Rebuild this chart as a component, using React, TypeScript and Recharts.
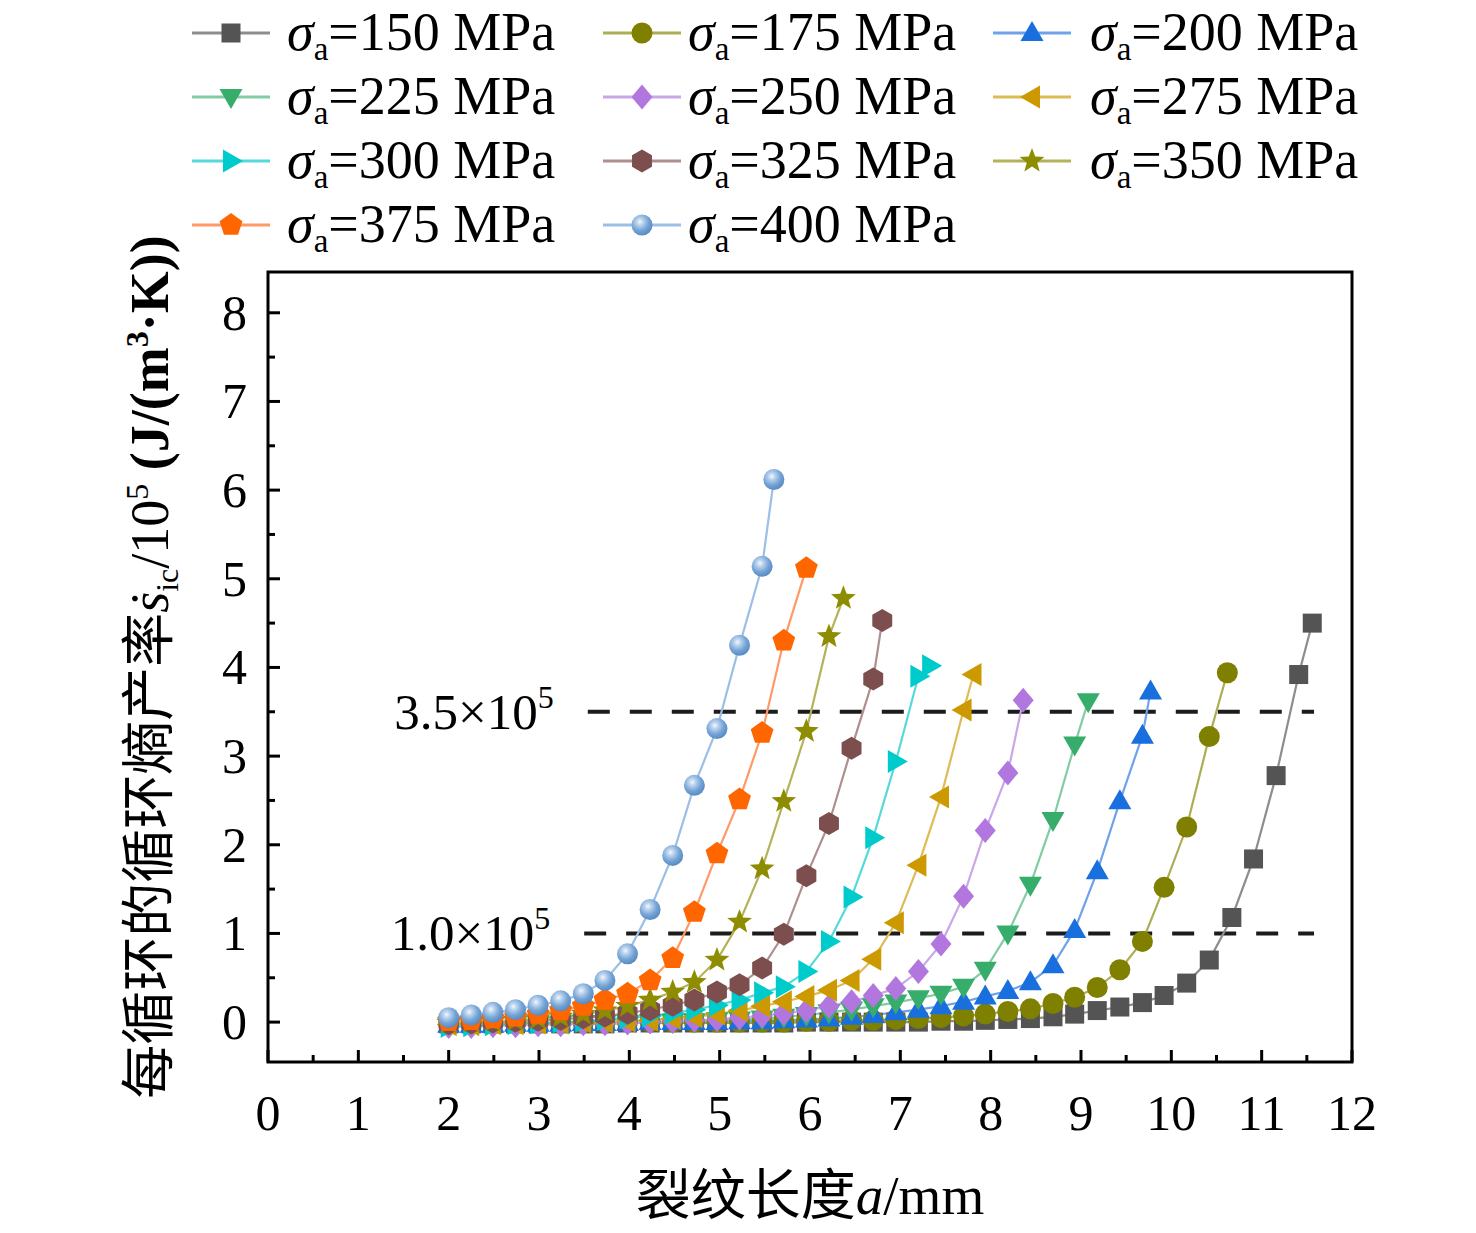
import React from 'react'
import { LineChart, Line, XAxis, YAxis, ReferenceLine, ReferenceArea, Legend } from 'recharts'

const SERIF = '"Liberation Serif", "Times New Roman", serif'
const CJK = '"Liberation Serif", "Noto Sans CJK SC", serif'

// crack length grid (mm), shared by every stress level
const crackLength = [
  2.0, 2.25, 2.49, 2.74, 2.99, 3.24, 3.49, 3.73, 3.98, 4.23, 4.48, 4.72, 4.97, 5.22, 5.47, 5.71, 5.96, 6.21, 6.46,
  6.7, 6.95, 7.2, 7.45, 7.7, 7.94, 8.19, 8.44, 8.69, 8.93, 9.18, 9.43, 9.68, 9.92, 10.17, 10.42, 10.67, 10.91, 11.16,
  11.41,
]

// entropy production rate / 1e5, one value per grid point, plus the final (critical) point
const rate150 = [
  -0.02, -0.02, -0.02, -0.02, -0.02, -0.02, -0.02, -0.02, -0.01, -0.01, -0.01, -0.01, -0.01, -0.01, -0.01, -0.01, 0.0,
  0.0, 0.0, 0.0, 0.0, 0.0, 0.01, 0.01, 0.02, 0.03, 0.04, 0.06, 0.09, 0.13, 0.17, 0.22, 0.3, 0.44, 0.7, 1.18, 1.84, 2.78,
  3.92,
]
const end150 = [11.56, 4.5]
const rate175 = [
  -0.01, -0.01, -0.01, -0.01, -0.01, -0.01, -0.01, -0.01, 0.0, 0.0, 0.0, 0.0, 0.0, 0.0, 0.0, 0.0, 0.01, 0.01, 0.02,
  0.02, 0.03, 0.04, 0.05, 0.07, 0.09, 0.12, 0.15, 0.21, 0.28, 0.39, 0.59, 0.91, 1.52, 2.2, 3.22,
]
const end175 = [10.62, 3.94]
const rate200 = [
  -0.03, -0.03, -0.03, -0.02, -0.02, -0.02, -0.01, -0.01, -0.01, 0.0, 0.0, 0.0, 0.0, 0.01, 0.01, 0.02, 0.03, 0.04, 0.06,
  0.08, 0.11, 0.14, 0.18, 0.23, 0.29, 0.35, 0.45, 0.64, 1.04, 1.7, 2.49, 3.23,
]
const end200 = [9.77, 3.73]
const rate225 = [
  -0.03, -0.03, -0.03, -0.02, -0.02, -0.02, -0.01, -0.01, -0.01, 0.0, 0.0, 0.01, 0.02, 0.03, 0.04, 0.06, 0.08, 0.11,
  0.14, 0.18, 0.22, 0.27, 0.32, 0.4, 0.59, 1.0, 1.55, 2.28, 3.13,
]
const end225 = [9.08, 3.62]
const rate250 = [
  -0.05, -0.05, -0.04, -0.04, -0.03, -0.03, -0.02, -0.02, -0.01, 0.0, 0.01, 0.02, 0.03, 0.05, 0.07, 0.1, 0.13, 0.18,
  0.23, 0.3, 0.38, 0.57, 0.88, 1.42, 2.16, 2.81,
]
const end250 = [8.36, 3.63]
const rate275 = [
  -0.03, -0.03, -0.02, -0.02, -0.01, -0.01, 0.0, 0.0, 0.01, 0.02, 0.04, 0.06, 0.09, 0.13, 0.18, 0.23, 0.29, 0.36, 0.47,
  0.71, 1.12, 1.77, 2.54, 3.52,
]
const end275 = [7.81, 3.92]
const rate300 = [
  -0.05, -0.04, -0.03, -0.02, -0.01, 0.0, 0.01, 0.03, 0.05, 0.07, 0.1, 0.14, 0.19, 0.25, 0.33, 0.4, 0.57, 0.91, 1.41,
  2.08, 2.94, 3.9,
]
const end300 = [7.33, 4.02]
const rate325 = [
  -0.02, -0.01, 0.0, 0.01, 0.02, 0.03, 0.05, 0.07, 0.1, 0.14, 0.19, 0.25, 0.34, 0.42, 0.61, 0.99, 1.65, 2.24, 3.09,
  3.87,
]
const end325 = [6.8, 4.53]
const rate350 = [
  -0.01, 0.0, 0.01, 0.02, 0.04, 0.06, 0.09, 0.13, 0.18, 0.25, 0.34, 0.45, 0.7, 1.13, 1.73, 2.49, 3.28, 4.35,
]
const end350 = [6.37, 4.78]
const rate375 = [0.01, 0.02, 0.04, 0.06, 0.09, 0.13, 0.18, 0.25, 0.32, 0.47, 0.72, 1.24, 1.9, 2.51, 3.26, 4.3]
const end375 = [5.96, 5.12]
const rate400 = [0.05, 0.08, 0.11, 0.14, 0.19, 0.24, 0.32, 0.47, 0.77, 1.27, 1.88, 2.67, 3.31, 4.25, 5.14]
const end400 = [5.6, 6.12]

const xTicks = [0, 0.5, 1, 1.5, 2, 2.5, 3, 3.5, 4, 4.5, 5, 5.5, 6, 6.5, 7, 7.5, 8, 8.5, 9, 9.5, 10, 10.5, 11, 11.5, 12]
const yTicks = [0, 0.5, 1, 1.5, 2, 2.5, 3, 3.5, 4, 4.5, 5, 5.5, 6, 6.5, 7, 7.5, 8]
const thresholds = [
  { value: 3.5, text: '3.5', from: 3.54, to: 11.58 },
  { value: 1.0, text: '1.0', from: 3.5, to: 11.58 },
]

const series = [
  { stress: '150', values: rate150, end: end150, shape: 'square', fill: '#545454', line: '#8d8d8d' },
  { stress: '175', values: rate175, end: end175, shape: 'circle', fill: '#7f7f00', line: '#adad55' },
  { stress: '200', values: rate200, end: end200, shape: 'up', fill: '#1a6fdf', line: '#6ea3ea' },
  { stress: '225', values: rate225, end: end225, shape: 'down', fill: '#37ad6b', line: '#82cca2' },
  { stress: '250', values: rate250, end: end250, shape: 'diamond', fill: '#b177de', line: '#caa6ea' },
  { stress: '275', values: rate275, end: end275, shape: 'left', fill: '#cc9900', line: '#ddbb55' },
  { stress: '300', values: rate300, end: end300, shape: 'right', fill: '#00cbcc', line: '#55d9da' },
  { stress: '325', values: rate325, end: end325, shape: 'hexagon', fill: '#7d4e4e', line: '#ad8f8f' },
  { stress: '350', values: rate350, end: end350, shape: 'star', fill: '#8e8c00', line: '#b5b35a' },
  { stress: '375', values: rate375, end: end375, shape: 'pentagon', fill: '#ff6600', line: '#ff9a66' },
  { stress: '400', values: rate400, end: end400, shape: 'sphere', fill: 'url(#sphereFill)', line: '#9bbfe6' },
]

const toPoints = (values: number[], end: number[]) => [
  ...values.map((s, i) => ({ a: crackLength[i], s })),
  { a: end[0], s: end[1] },
]

const polar = (n: number, r: number, cx: number, cy: number, start = -90) =>
  Array.from({ length: n }, (_, k) => {
    const t = ((start + (360 / n) * k) * Math.PI) / 180
    return `${cx + r * Math.cos(t)},${cy + r * Math.sin(t)}`
  }).join(' ')

const starPts = (cx: number, cy: number) =>
  Array.from({ length: 10 }, (_, k) => {
    const r = k % 2 === 0 ? 13 : 5.5
    const t = ((-90 + 36 * k) * Math.PI) / 180
    return `${cx + r * Math.cos(t)},${cy + r * Math.sin(t)}`
  }).join(' ')

function Marker({ shape, cx, cy, fill }: { shape: string; cx: number; cy: number; fill: string }) {
  if (cx == null || cy == null) return null
  switch (shape) {
    case 'square':
      return <rect x={cx - 9.5} y={cy - 9.5} width={19} height={19} fill={fill} />
    case 'circle':
    case 'sphere':
      return <circle cx={cx} cy={cy} r={10.5} fill={fill} />
    case 'up':
      return <polygon points={`${cx},${cy - 12} ${cx + 11.5},${cy + 8} ${cx - 11.5},${cy + 8}`} fill={fill} />
    case 'down':
      return <polygon points={`${cx},${cy + 12} ${cx + 11.5},${cy - 8} ${cx - 11.5},${cy - 8}`} fill={fill} />
    case 'left':
      return <polygon points={`${cx - 12},${cy} ${cx + 8},${cy - 11.5} ${cx + 8},${cy + 11.5}`} fill={fill} />
    case 'right':
      return <polygon points={`${cx + 12},${cy} ${cx - 8},${cy - 11.5} ${cx - 8},${cy + 11.5}`} fill={fill} />
    case 'diamond':
      return <polygon points={`${cx},${cy - 12.5} ${cx + 10.5},${cy} ${cx},${cy + 12.5} ${cx - 10.5},${cy}`} fill={fill} />
    case 'hexagon':
      return <polygon points={polar(6, 11.5, cx, cy)} fill={fill} />
    case 'pentagon':
      return <polygon points={polar(5, 12, cx, cy)} fill={fill} />
    case 'star':
      return <polygon points={starPts(cx, cy)} fill={fill} />
    default:
      return null
  }
}

const XTick = (props: any) => {
  const { x, y, payload } = props
  const v = payload.value
  const major = Number.isInteger(v)
  return (
    <g>
      <line x1={x} x2={x} y1={y} y2={y - (major ? 12 : 7)} stroke="#000" strokeWidth={3} />
      {major && (
        <text x={x} y={y + 68} textAnchor="middle" fontFamily={SERIF} fontSize={50} fill="#000">
          {v}
        </text>
      )}
    </g>
  )
}

const YTick = (props: any) => {
  const { x, y, payload } = props
  const v = payload.value
  const major = Number.isInteger(v)
  return (
    <g>
      <line x1={x} x2={x + (major ? 12 : 7)} y1={y} y2={y} stroke="#000" strokeWidth={3} />
      {major && (
        <text x={x - 21} y={y + 17} textAnchor="end" fontFamily={SERIF} fontSize={50} fill="#000">
          {v}
        </text>
      )}
    </g>
  )
}

const ThresholdLabel = (props: any) => {
  const { viewBox, text } = props
  return (
    <text x={viewBox.x - 34} y={viewBox.y + 17} textAnchor="end" fontFamily={SERIF} fontSize={51} fill="#000">
      {text}×10
      <tspan fontSize={32} dy={-21}>
        5
      </tspan>
    </text>
  )
}

const XTitle = (props: any) => {
  const { viewBox } = props
  return (
    <text x={viewBox.x + viewBox.width / 2} y={viewBox.y + 152} textAnchor="middle" fontFamily={CJK} fontSize={55} fill="#000">
      裂纹长度<tspan fontStyle="italic">a</tspan>/mm
    </text>
  )
}

const YTitle = (props: any) => {
  const { viewBox } = props
  const cx = viewBox.x - 58
  const cy = viewBox.y + viewBox.height / 2
  return (
    <text transform={`translate(${cx}, ${cy}) rotate(-90)`} x={0} y={18} textAnchor="middle" fontFamily={CJK} fontSize={54} fill="#000">
      每循环的循环熵产率
      <tspan fontStyle="italic">ṡ</tspan>
      <tspan fontSize={32} dy={10}>
        ic
      </tspan>
      <tspan dy={-10}>/10</tspan>
      <tspan fontSize={32} dy={-20}>
        5
      </tspan>
      <tspan dy={20} fontWeight="bold">
        {' (J/(m'}
      </tspan>
      <tspan fontSize={32} dy={-20} fontWeight="bold">
        3
      </tspan>
      <tspan dy={20} fontWeight="bold">
        ·K))
      </tspan>
    </text>
  )
}

const legendLineX = [192, 603, 993]
const legendTextX = [287, 688, 1090]

const LegendBlock = () => (
  <svg width={1476} height={262} style={{ display: 'block' }}>
    {series.map((st, i) => {
      const col = i % 3
      const row = Math.floor(i / 3)
      const lx = legendLineX[col]
      const by = 50 + row * 64
      return (
        <g key={st.stress}>
          <line x1={lx} x2={lx + 78} y1={by - 17} y2={by - 17} stroke={st.line} strokeWidth={3} />
          <Marker shape={st.shape} cx={lx + 39} cy={by - 17} fill={st.fill} />
          <text x={legendTextX[col]} y={by} fontFamily={SERIF} fontSize={54} fill="#000">
            <tspan fontStyle="italic">σ</tspan>
            <tspan fontSize={33} dy={10}>
              a
            </tspan>
            <tspan dy={-10}>={st.stress} MPa</tspan>
          </text>
        </g>
      )
    })}
  </svg>
)

export default function App() {
  return (
    <div style={{ position: 'absolute', left: 0, top: 0, width: 1476, height: 1233, background: '#fff' }}>
      <LineChart width={1476} height={1233} margin={{ top: 272, right: 124, bottom: 111, left: 208 }}>
        <defs>
          <radialGradient id="sphereFill" cx="0.4" cy="0.35" r="0.7">
            <stop offset="0%" stopColor="#f4f8fd" />
            <stop offset="22%" stopColor="#bcd4ee" />
            <stop offset="60%" stopColor="#74a4d6" />
            <stop offset="100%" stopColor="#5384bd" />
          </radialGradient>
        </defs>
        <XAxis
          dataKey="a"
          type="number"
          domain={[0, 12]}
          ticks={xTicks}
          interval={0}
          height={60}
          axisLine={false}
          tickLine={false}
          tickSize={0}
          tickMargin={0}
          tick={XTick}
          label={XTitle}
        />
        <YAxis
          type="number"
          domain={[-0.45, 8.46]}
          allowDataOverflow
          ticks={yTicks}
          interval={0}
          width={60}
          axisLine={false}
          tickLine={false}
          tickSize={0}
          tickMargin={0}
          tick={YTick}
          label={YTitle}
        />
        <Legend
          layout="horizontal"
          verticalAlign="middle"
          align="center"
          content={() => <LegendBlock />}
          wrapperStyle={{ top: 0, left: 0, width: 1476, height: 262 }}
        />
        <ReferenceArea x1={0} x2={12} y1={-0.45} y2={8.46} fill="none" stroke="#000" strokeWidth={3} ifOverflow="visible" />
        {thresholds.map((t) => (
          <ReferenceLine
            key={t.text}
            segment={[
              { x: t.from, y: t.value },
              { x: t.to, y: t.value },
            ]}
            stroke="#1c1c1c"
            strokeWidth={4}
            strokeDasharray="22 20"
            ifOverflow="visible"
            label={(p: any) => <ThresholdLabel {...p} text={t.text} />}
          />
        ))}
        {series.map((st) => (
          <Line
            key={st.stress}
            data={toPoints(st.values, st.end)}
            dataKey="s"
            name={st.stress}
            type="linear"
            stroke={st.line}
            strokeWidth={2.2}
            isAnimationActive={false}
            activeDot={false}
            dot={(p: any) => <Marker key={`${st.stress}-${p.index}`} shape={st.shape} cx={p.cx} cy={p.cy} fill={st.fill} />}
          />
        ))}
      </LineChart>
    </div>
  )
}
